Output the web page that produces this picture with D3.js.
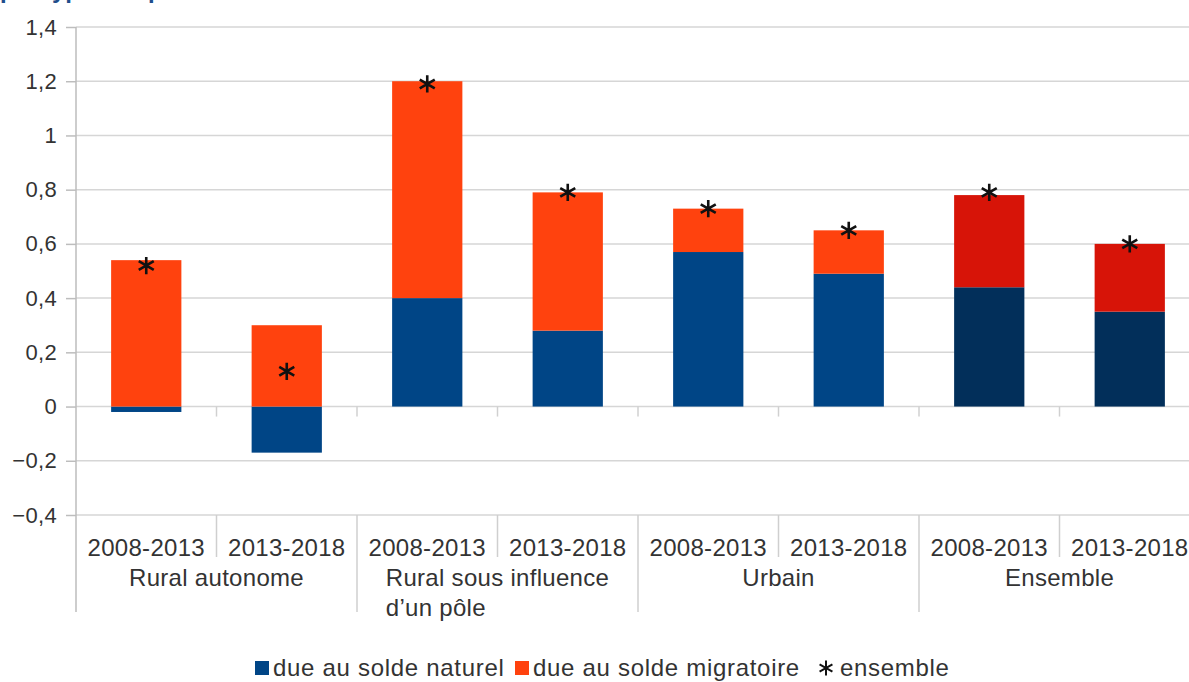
<!DOCTYPE html>
<html lang="fr">
<head>
	<meta charset="UTF-8" />
	<title>Solde naturel et migratoire</title>
	<script type="text/javascript" src="https://cdn.jsdelivr.net/npm/d3@7/dist/d3.min.js"></script>
	<style>
		body { margin: 0; background: #fff; }
		text { font-family: "Liberation Sans", Arial, sans-serif; fill: #333; }
	</style>
</head>
<body>
	<svg id="vis" width="1189" height="682"></svg>
	<script type="text/javascript">
		// Données
		var groupes = ["Rural autonome", "Rural sous influence\nd\u2019un pôle", "Urbain", "Ensemble"];
		var periodes = ["2008-2013", "2013-2018"];
		var soldeNaturel = [-0.02, -0.17, 0.40, 0.28, 0.57, 0.49, 0.44, 0.35];
		var soldeMigratoire = [0.54, 0.30, 0.80, 0.51, 0.16, 0.16, 0.34, 0.25];
		var ensemble = [0.52, 0.13, 1.19, 0.79, 0.73, 0.65, 0.79, 0.60];
		var yTicks = [-0.4, -0.2, 0, 0.2, 0.4, 0.6, 0.8, 1, 1.2, 1.4];
		var seriesNoms = ["due au solde naturel", "due au solde migratoire", "ensemble"];

		// Table pour d3.stack
		var table = [];
		for (var i = 0; i < soldeNaturel.length; i++) {
			table.push({
				idx: i,
				groupe: Math.floor(i / periodes.length),
				periode: periodes[i % periodes.length],
				naturel: soldeNaturel[i],
				migratoire: soldeMigratoire[i],
				ensemble: ensemble[i]
			});
		}

		// Couleurs (les barres "Ensemble" sont plus sombres)
		var couleurs = {
			naturel: ["#004586", "#004586", "#004586", "#022f5a"],
			migratoire: ["#ff420e", "#ff420e", "#ff420e", "#d71408"]
		};

		var svg = d3.select("#vis");
		var gauche = 76, bande = 140.5;

		// Echelles
		var scaleX = d3.scaleBand()
			.domain(table.map(function(d) { return d.idx; }))
			.range([gauche, gauche + bande * table.length])
			.paddingInner(0.5)
			.paddingOuter(0.25);

		var scaleY = d3.scaleLinear()
			.domain([-0.4, 1.4])
			.range([515, 27]);

		// Titre (coupé en haut de l'image)
		svg.append("text")
			.attr("x", 0)
			.attr("y", -2)
			.style("font-size", "24px")
			.style("font-weight", "bold")
			.style("fill", "#1f4e8c")
			.text("par type d\u2019espace");

		// Grille horizontale
		svg.append("g")
			.selectAll("line")
			.data(yTicks)
			.join("line")
			.attr("x1", gauche)
			.attr("x2", 1189)
			.attr("y1", function(d) { return scaleY(d); })
			.attr("y2", function(d) { return scaleY(d); })
			.attr("stroke", "#d6d6d6")
			.attr("stroke-width", 1.5);

		// Axe Y
		var yAxis = d3.axisLeft(scaleY)
			.tickValues(yTicks)
			.tickSize(10)
			.tickPadding(9)
			.tickFormat(function(d) { return d3.format("")(+d.toFixed(1)).replace(".", ","); });

		var gy = svg.append("g")
			.attr("transform", "translate(" + gauche + ",0)")
			.call(yAxis);
		gy.select(".domain").remove();
		gy.selectAll(".tick line").attr("stroke", "#bdbdbd").attr("stroke-width", 1.5);
		gy.selectAll(".tick text").style("font-size", "22px").style("letter-spacing", "0.3px").style("fill", "#333");

		svg.append("line")
			.attr("x1", gauche).attr("x2", gauche)
			.attr("y1", scaleY(1.4)).attr("y2", 612)
			.attr("stroke", "#bdbdbd").attr("stroke-width", 1.5);

		// Petites graduations sous la ligne du zéro
		var limites = d3.range(1, table.length).map(function(i) { return gauche + bande * i; });
		svg.append("g")
			.selectAll("line")
			.data(limites)
			.join("line")
			.attr("x1", function(d) { return d; })
			.attr("x2", function(d) { return d; })
			.attr("y1", scaleY(0))
			.attr("y2", scaleY(0) + 10)
			.attr("stroke", "#d0d0d0")
			.attr("stroke-width", 1.5);

		// Séparateurs des catégories sous l'axe
		svg.append("g")
			.selectAll("line")
			.data(limites)
			.join("line")
			.attr("x1", function(d) { return d; })
			.attr("x2", function(d) { return d; })
			.attr("y1", scaleY(-0.4))
			.attr("y2", function(d, i) { return (i % 2 === 1) ? 612 : 557; })
			.attr("stroke", "#cfcfcf")
			.attr("stroke-width", 1.5);

		// Barres empilées
		var stack = d3.stack()
			.keys(["naturel", "migratoire"])
			.offset(d3.stackOffsetDiverging);
		var series = stack(table);

		svg.append("g")
			.selectAll("g")
			.data(series)
			.join("g")
			.selectAll("rect")
			.data(function(s) { return s.map(function(p) { p.cle = s.key; return p; }); })
			.join("rect")
			.attr("x", function(p) { return scaleX(p.data.idx); })
			.attr("width", scaleX.bandwidth())
			.attr("y", function(p) { return scaleY(Math.max(p[0], p[1])); })
			.attr("height", function(p) { return Math.abs(scaleY(p[0]) - scaleY(p[1])); })
			.attr("fill", function(p) { return couleurs[p.cle][p.data.groupe]; });

		// Symbole astérisque
		var asterisque = {
			draw: function(ctx, size) {
				var r = Math.sqrt(size) / 2;
				var t = r / 2, u = t * Math.sqrt(3);
				ctx.moveTo(0, r); ctx.lineTo(0, -r);
				ctx.moveTo(-u, -t); ctx.lineTo(u, t);
				ctx.moveTo(-u, t); ctx.lineTo(u, -t);
			}
		};
		var symbole = d3.symbol().type(asterisque).size(300);

		svg.append("g")
			.selectAll("path")
			.data(table)
			.join("path")
			.attr("transform", function(d) {
				return "translate(" + (scaleX(d.idx) + scaleX.bandwidth() / 2) + "," + scaleY(d.ensemble) + ")";
			})
			.attr("d", symbole())
			.attr("stroke", "#111")
			.attr("stroke-width", 2.6)
			.attr("fill", "none");

		// Libellés des périodes
		svg.append("g")
			.selectAll("text")
			.data(table)
			.join("text")
			.attr("x", function(d) { return scaleX(d.idx) + scaleX.bandwidth() / 2; })
			.attr("y", 556)
			.attr("text-anchor", "middle")
			.style("font-size", "24px")
			.style("letter-spacing", "0.3px")
			.text(function(d) { return d.periode; });

		// Libellés des groupes (sur plusieurs lignes, alignés à gauche dans un bloc centré)
		var gGroupes = svg.append("g");
		groupes.forEach(function(nom, g) {
			var lignes = nom.split("\n");
			var cx = gauche + bande * (2 * g + 1);
			var t = gGroupes.append("text")
				.attr("y", 586)
				.style("font-size", "24px")
				.style("letter-spacing", "0.3px");
			lignes.forEach(function(l, k) {
				t.append("tspan")
					.attr("x", 0)
					.attr("dy", k === 0 ? 0 : 30)
					.text(l);
			});
			var larg = t.node().getBBox().width;
			t.selectAll("tspan").attr("x", cx - larg / 2);
		});

		// Légende
		var legende = svg.append("g").attr("transform", "translate(0,668)");
		var pos = [255, 515, 815];
		seriesNoms.forEach(function(nom, k) {
			var item = legende.append("g").attr("transform", "translate(" + pos[k] + ",0)");
			if (k < 2) {
				item.append("rect")
					.attr("x", 0).attr("y", -7)
					.attr("width", 14).attr("height", 14)
					.attr("fill", k === 0 ? "#004586" : "#ff420e");
			} else {
				item.append("path")
					.attr("transform", "translate(11,0)")
					.attr("d", d3.symbol().type(asterisque).size(220)())
					.attr("stroke", "#111")
					.attr("stroke-width", 2)
					.attr("fill", "none");
			}
			item.append("text")
				.attr("x", k < 2 ? 18 : 25)
				.attr("y", 8)
				.style("font-size", "24px")
				.style("letter-spacing", "0.7px")
				.text(nom);
		});
	</script>
</body>
</html>
